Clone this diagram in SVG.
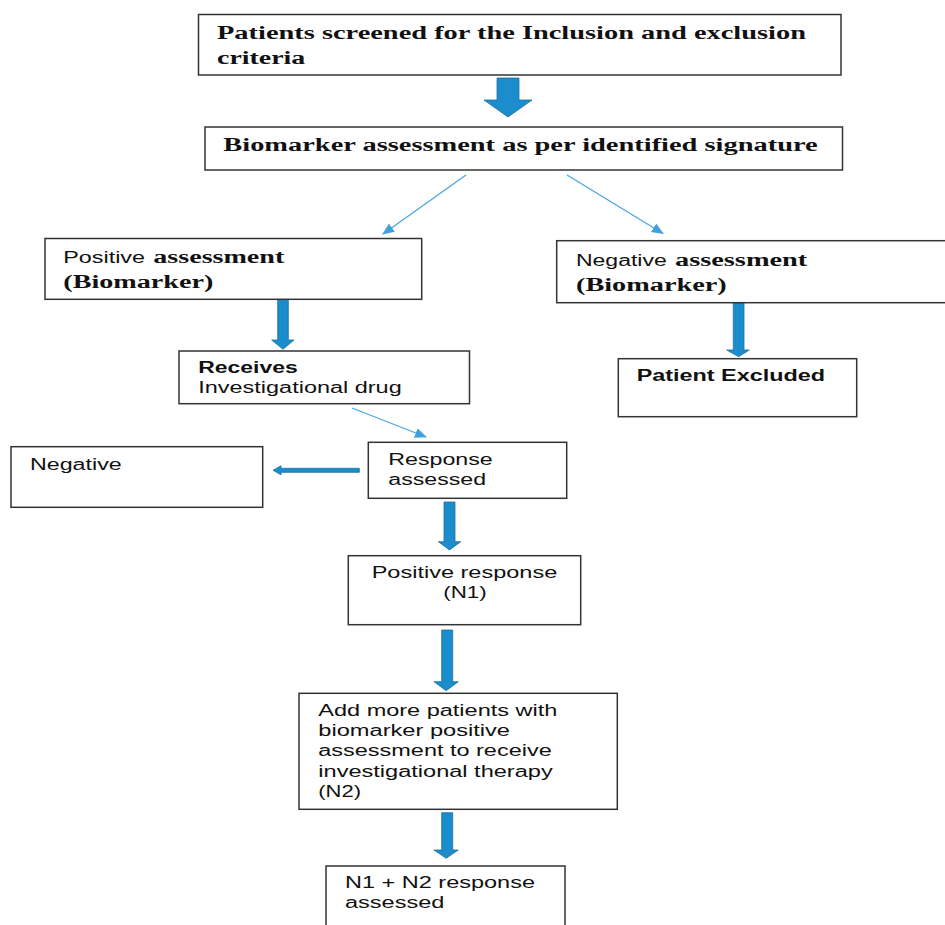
<svg xmlns="http://www.w3.org/2000/svg" width="945" height="925" viewBox="0 0 945 925">
<style>
.box{fill:#fff;stroke:#333;stroke-width:1.5}
.tb{font-family:"Liberation Serif","Times New Roman",serif;font-weight:bold;font-size:18.5px;fill:#111}
.a{font-family:"Liberation Sans",Arial,sans-serif;font-size:16px;fill:#111}
.ab{font-family:"Liberation Sans",Arial,sans-serif;font-size:16px;font-weight:bold;fill:#111}
.thin{stroke:#4aa6e0;stroke-width:1.3;fill:none}
.blk{fill:#1b8dcc;stroke:#1a6fa3;stroke-width:0.8}
</style>
<defs>
<marker id="ah" markerWidth="12" markerHeight="10" refX="11" refY="5" orient="auto" markerUnits="userSpaceOnUse">
<path d="M0,0 L12,5 L0,10 Z" fill="#3ea0dc"/>
</marker>
</defs>
<rect width="945" height="925" fill="#fff"/>
<g id="connectors">
<polygon class="blk" points="497,78 519,78 519,100 532,100 508,117 484,100 497,100" fill="#1e93d3"/>
<line class="thin" x1="466" y1="175" x2="383" y2="234" marker-end="url(#ah)"/>
<line class="thin" x1="567" y1="175" x2="663" y2="233.5" marker-end="url(#ah)"/>
<polygon class="blk" points="277.7,299.5 288.3,299.5 288.3,340 294,340 283,349.3 271.7,340 277.7,340"/>
<polygon class="blk" points="733.3,303 744,303 744,350 749.3,350 738.7,356.7 726.7,350 733.3,350"/>
<line class="thin" x1="352" y1="408" x2="426" y2="437" marker-end="url(#ah)"/>
<polygon class="blk" points="359.3,468.3 281,468.3 281,465.8 273,470.3 281,474.8 281,472.3 359.3,472.3"/>
<polygon class="blk" points="444,502 455,502 455,541.7 460.7,541.7 449.5,550 438.3,541.7 444,541.7"/>
<polygon class="blk" points="441.7,630 452.7,630 452.7,681.7 458.3,681.7 446.2,690.7 434,681.7 441.7,681.7"/>
<polygon class="blk" points="441.7,812.7 452.7,812.7 452.7,850 458.3,850 446.2,858.3 434,850 441.7,850"/>
</g>
<g id="n-screen">
<rect class="box" x="198.5" y="14.5" width="642.5" height="60.5"/>
<text class="tb" x="217" y="39" textLength="589" lengthAdjust="spacingAndGlyphs">Patients screened for the Inclusion and exclusion</text>
<text class="tb" x="217" y="63.5" textLength="88.3" lengthAdjust="spacingAndGlyphs">criteria</text>
</g>
<g id="n-biomarker">
<rect class="box" x="205" y="127" width="637.5" height="43"/>
<text class="tb" x="223.3" y="150.7" textLength="594.4" lengthAdjust="spacingAndGlyphs">Biomarker assessment as per identified signature</text>
</g>
<g id="n-positive">
<rect class="box" x="45" y="238.5" width="376.7" height="60.8"/>
<text class="a" x="63.3" y="263.3" textLength="81.7" lengthAdjust="spacingAndGlyphs">Positive</text>
<text class="tb" x="153.3" y="263.3" textLength="131" lengthAdjust="spacingAndGlyphs">assessment</text>
<text class="tb" x="63.3" y="288.3" textLength="150" lengthAdjust="spacingAndGlyphs">(Biomarker)</text>
</g>
<g id="n-negative-assess">
<rect class="box" x="556.7" y="240.7" width="400" height="62"/>
<text class="a" x="576" y="266" textLength="90.7" lengthAdjust="spacingAndGlyphs">Negative</text>
<text class="tb" x="675" y="266" textLength="132.3" lengthAdjust="spacingAndGlyphs">assessment</text>
<text class="tb" x="576" y="290.7" textLength="150.7" lengthAdjust="spacingAndGlyphs">(Biomarker)</text>
</g>
<g id="n-receives">
<rect class="box" x="179" y="351" width="290.5" height="52.7"/>
<text class="ab" x="198.3" y="372.7" textLength="99.4" lengthAdjust="spacingAndGlyphs">Receives</text>
<text class="a" x="198.3" y="393.3" textLength="203.4" lengthAdjust="spacingAndGlyphs">Investigational drug</text>
</g>
<g id="n-excluded">
<rect class="box" x="618.3" y="358.7" width="238.4" height="58"/>
<text class="ab" x="636.7" y="380.7" textLength="188.3" lengthAdjust="spacingAndGlyphs">Patient Excluded</text>
</g>
<g id="n-negative">
<rect class="box" x="11" y="446.7" width="251.7" height="60.6"/>
<text class="a" x="30" y="470" textLength="91.7" lengthAdjust="spacingAndGlyphs">Negative</text>
</g>
<g id="n-response">
<rect class="box" x="368.3" y="442.3" width="198.4" height="56"/>
<text class="a" x="388.3" y="465" textLength="104.4" lengthAdjust="spacingAndGlyphs">Response</text>
<text class="a" x="388.3" y="485" textLength="97.7" lengthAdjust="spacingAndGlyphs">assessed</text>
</g>
<g id="n-posresp">
<rect class="box" x="348.3" y="555.7" width="232.4" height="69"/>
<text class="a" x="371.7" y="578.3" textLength="185.6" lengthAdjust="spacingAndGlyphs">Positive response</text>
<text class="a" x="443.3" y="598.3" textLength="43.4" lengthAdjust="spacingAndGlyphs">(N1)</text>
</g>
<g id="n-addmore">
<rect class="box" x="299" y="693.3" width="318.3" height="116"/>
<text class="a" x="318.3" y="715.7" textLength="239" lengthAdjust="spacingAndGlyphs">Add more patients with</text>
<text class="a" x="318.3" y="736" textLength="191.7" lengthAdjust="spacingAndGlyphs">biomarker positive</text>
<text class="a" x="318.3" y="756.3" textLength="233.4" lengthAdjust="spacingAndGlyphs">assessment to receive</text>
<text class="a" x="318.3" y="776.6" textLength="234.4" lengthAdjust="spacingAndGlyphs">investigational therapy</text>
<text class="a" x="318.3" y="796.9" textLength="42.7" lengthAdjust="spacingAndGlyphs">(N2)</text>
</g>
<g id="n-final">
<rect class="box" x="326" y="866" width="239" height="75"/>
<text class="a" x="345" y="888.3" textLength="190" lengthAdjust="spacingAndGlyphs">N1 + N2 response</text>
<text class="a" x="345" y="908.3" textLength="99.3" lengthAdjust="spacingAndGlyphs">assessed</text>
</g>
</svg>
